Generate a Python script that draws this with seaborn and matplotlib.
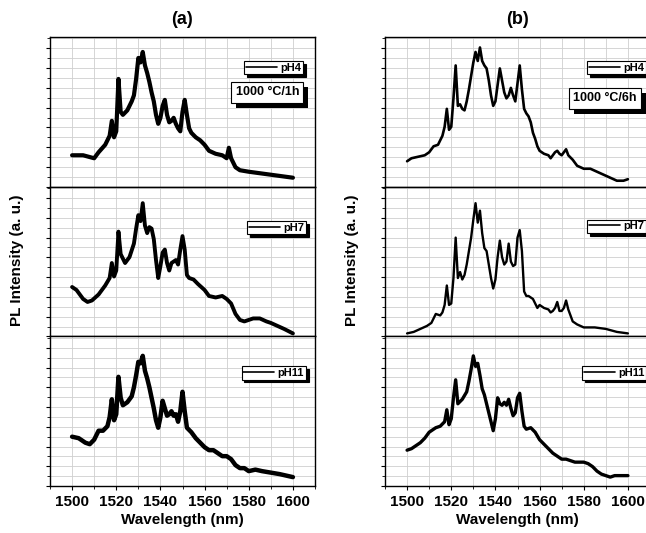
import pandas as pd
import matplotlib
matplotlib.use("Agg")
import matplotlib.pyplot as plt
import matplotlib.patheffects as pe
from matplotlib.ticker import MultipleLocator, NullFormatter
import seaborn as sns

# PL spectra, normalised to each panel's height (0..1)
wl_a4 = [1500, 1505, 1510, 1512, 1515, 1517, 1518, 1519, 1520, 1521, 1522, 1523, 1525, 1527, 1528,
         1529, 1530, 1531, 1532, 1533, 1534, 1535, 1536, 1537, 1538, 1539, 1540, 1541, 1542, 1543,
         1544, 1545, 1546, 1547, 1548, 1549, 1550, 1551, 1552, 1553, 1554, 1556, 1558, 1560, 1562,
         1565, 1568, 1570, 1571, 1572, 1574, 1576, 1580, 1585, 1590, 1595, 1600]
pl_a4 = [0.21, 0.21, 0.19, 0.23, 0.28, 0.34, 0.44, 0.33, 0.37, 0.72, 0.50, 0.48, 0.51, 0.57, 0.61,
         0.72, 0.86, 0.83, 0.90, 0.81, 0.76, 0.70, 0.63, 0.57, 0.48, 0.42, 0.46, 0.54, 0.58, 0.48,
         0.43, 0.44, 0.46, 0.42, 0.39, 0.37, 0.50, 0.58, 0.48, 0.39, 0.36, 0.33, 0.31, 0.28, 0.24,
         0.22, 0.21, 0.19, 0.26, 0.19, 0.13, 0.11, 0.10, 0.09, 0.08, 0.07, 0.06]

wl_a7 = [1500, 1502, 1505, 1507, 1509, 1512, 1515, 1517, 1518, 1519, 1520, 1521, 1522, 1524, 1526,
         1528, 1529, 1530, 1531, 1532, 1533, 1534, 1535, 1536, 1537, 1538, 1539, 1540, 1541, 1542,
         1543, 1544, 1545, 1546, 1547, 1548, 1549, 1550, 1551, 1552, 1553, 1555, 1557, 1560, 1562,
         1565, 1568, 1570, 1572, 1574, 1576, 1578, 1580, 1582, 1585, 1588, 1590, 1593, 1596, 1600]
pl_a7 = [0.33, 0.31, 0.25, 0.23, 0.24, 0.28, 0.34, 0.39, 0.49, 0.40, 0.44, 0.70, 0.55, 0.49, 0.53,
         0.62, 0.72, 0.81, 0.77, 0.89, 0.74, 0.69, 0.73, 0.72, 0.65, 0.51, 0.39, 0.47, 0.56, 0.58,
         0.49, 0.44, 0.49, 0.50, 0.51, 0.48, 0.58, 0.67, 0.58, 0.41, 0.39, 0.38, 0.35, 0.31, 0.27,
         0.26, 0.27, 0.25, 0.22, 0.15, 0.11, 0.10, 0.11, 0.12, 0.12, 0.10, 0.09, 0.07, 0.05, 0.02]

wl_a11 = [1500, 1503, 1506, 1508, 1510, 1512, 1514, 1516, 1517, 1518, 1519, 1520, 1521, 1522, 1523,
          1525, 1527, 1528, 1529, 1530, 1531, 1532, 1533, 1534, 1535, 1536, 1537, 1538, 1539, 1540,
          1541, 1542, 1543, 1544, 1545, 1546, 1547, 1548, 1549, 1550, 1551, 1552, 1554, 1556, 1558,
          1560, 1562, 1564, 1566, 1568, 1570, 1572, 1574, 1576, 1578, 1580, 1583, 1586, 1590, 1594,
          1597, 1600]
pl_a11 = [0.33, 0.32, 0.29, 0.28, 0.31, 0.37, 0.37, 0.40, 0.46, 0.58, 0.44, 0.48, 0.73, 0.59, 0.54,
          0.56, 0.60, 0.66, 0.74, 0.83, 0.82, 0.87, 0.77, 0.72, 0.66, 0.59, 0.52, 0.44, 0.39, 0.46,
          0.57, 0.52, 0.47, 0.48, 0.50, 0.47, 0.48, 0.43, 0.50, 0.63, 0.50, 0.39, 0.36, 0.32, 0.29,
          0.26, 0.24, 0.24, 0.22, 0.20, 0.20, 0.18, 0.14, 0.12, 0.12, 0.10, 0.11, 0.10, 0.09, 0.08,
          0.07, 0.06]

wl_b4 = [1500, 1502, 1505, 1508, 1510, 1512, 1514, 1515, 1516, 1517, 1518, 1519, 1520, 1521, 1522,
         1523, 1524, 1525, 1526, 1527, 1528, 1529, 1530, 1531, 1532, 1533, 1534, 1535, 1536, 1537,
         1538, 1539, 1540, 1541, 1542, 1543, 1544, 1545, 1546, 1547, 1548, 1549, 1550, 1551, 1552,
         1553, 1554, 1555, 1556, 1557, 1558, 1559, 1560, 1562, 1564, 1565, 1566, 1567, 1568, 1569,
         1570, 1571, 1572, 1573, 1575, 1577, 1580, 1583, 1586, 1589, 1592, 1595, 1598, 1600]
pl_b4 = [0.17, 0.19, 0.20, 0.21, 0.23, 0.27, 0.28, 0.31, 0.34, 0.40, 0.52, 0.38, 0.40, 0.59, 0.81,
         0.54, 0.55, 0.52, 0.51, 0.57, 0.65, 0.74, 0.83, 0.90, 0.84, 0.93, 0.84, 0.81, 0.79, 0.71,
         0.61, 0.54, 0.57, 0.68, 0.79, 0.71, 0.63, 0.59, 0.61, 0.66, 0.61, 0.57, 0.69, 0.81, 0.65,
         0.52, 0.49, 0.47, 0.43, 0.36, 0.32, 0.27, 0.24, 0.22, 0.21, 0.19, 0.21, 0.23, 0.24, 0.22,
         0.21, 0.23, 0.25, 0.21, 0.18, 0.14, 0.12, 0.12, 0.10, 0.08, 0.06, 0.04, 0.04, 0.05]

wl_b7 = [1500, 1503, 1506, 1509, 1511, 1513, 1515, 1516, 1517, 1518, 1519, 1520, 1521, 1522, 1523,
         1524, 1525, 1526, 1527, 1528, 1529, 1530, 1531, 1532, 1533, 1534, 1535, 1536, 1537, 1538,
         1539, 1540, 1541, 1542, 1543, 1544, 1545, 1546, 1547, 1548, 1549, 1550, 1551, 1552, 1553,
         1554, 1555, 1556, 1557, 1558, 1559, 1560, 1562, 1564, 1565, 1566, 1567, 1568, 1569, 1570,
         1571, 1572, 1573, 1574, 1575, 1577, 1580, 1585, 1590, 1595, 1600]
pl_b7 = [0.02, 0.03, 0.05, 0.07, 0.09, 0.15, 0.14, 0.16, 0.21, 0.34, 0.21, 0.22, 0.39, 0.66, 0.39,
         0.43, 0.38, 0.41, 0.48, 0.57, 0.66, 0.78, 0.89, 0.76, 0.84, 0.69, 0.59, 0.57, 0.48, 0.39,
         0.32, 0.38, 0.53, 0.64, 0.53, 0.48, 0.50, 0.62, 0.50, 0.47, 0.48, 0.66, 0.71, 0.57, 0.30,
         0.27, 0.27, 0.26, 0.25, 0.22, 0.19, 0.21, 0.19, 0.18, 0.16, 0.17, 0.19, 0.23, 0.17, 0.17,
         0.19, 0.24, 0.18, 0.14, 0.10, 0.08, 0.06, 0.06, 0.05, 0.03, 0.02]

wl_b11 = [1500, 1502, 1504, 1506, 1508, 1510, 1512, 1513, 1515, 1517, 1518, 1519, 1520, 1521, 1522,
          1523, 1525, 1527, 1528, 1529, 1530, 1531, 1532, 1533, 1534, 1535, 1536, 1537, 1538, 1539,
          1540, 1541, 1542, 1543, 1544, 1545, 1546, 1547, 1548, 1549, 1550, 1551, 1552, 1553, 1554,
          1556, 1558, 1560, 1562, 1564, 1566, 1568, 1570, 1572, 1574, 1576, 1578, 1580, 1582, 1584,
          1586, 1588, 1590, 1592, 1594, 1596, 1598, 1600]
pl_b11 = [0.24, 0.25, 0.27, 0.29, 0.32, 0.36, 0.38, 0.39, 0.40, 0.43, 0.51, 0.41, 0.45, 0.59, 0.71,
          0.55, 0.58, 0.63, 0.70, 0.78, 0.87, 0.80, 0.82, 0.74, 0.65, 0.61, 0.55, 0.49, 0.43, 0.37,
          0.45, 0.59, 0.55, 0.54, 0.56, 0.54, 0.58, 0.52, 0.47, 0.49, 0.59, 0.62, 0.50, 0.40, 0.38,
          0.39, 0.36, 0.31, 0.28, 0.25, 0.22, 0.20, 0.18, 0.18, 0.17, 0.16, 0.16, 0.16, 0.15, 0.13,
          0.10, 0.08, 0.07, 0.06, 0.07, 0.07, 0.07, 0.07]

labels = ["pH4", "pH7", "pH11"]
panel_titles = ["(a)", "(b)"]
anneal_labels = ["1000 °C/1h", "1000 °C/6h"]
columns = [
    [(wl_a4, pl_a4), (wl_a7, pl_a7), (wl_a11, pl_a11)],
    [(wl_b4, pl_b4), (wl_b7, pl_b7), (wl_b11, pl_b11)],
]
# the 1h spectra are noisy, so their trace reads thicker
line_widths = [[3.0, 2.8, 3.2], [1.9, 1.7, 2.4]]

sns.set_style("white")
plt.rcParams['font.family'] = ['Liberation Sans', 'DejaVu Sans']
plt.rcParams['font.weight'] = 'bold'
for key in ['text.color', 'axes.labelcolor', 'xtick.color', 'ytick.color', 'axes.edgecolor']:
    plt.rcParams[key] = 'black'

W, H = 646, 533
fig = plt.figure(figsize=(W / 100, H / 100), dpi=100)

col_left = [50, 385]
col_width = 265
panel_top = 37
panel_h = 149.7

legend_pos = [[(0.955, 0.84), (0.965, 0.77), (0.965, 0.80)],
              [(0.985, 0.84), (0.985, 0.78), (0.985, 0.80)]]
anneal_pos = [(0.82, 0.63), (0.83, 0.59)]

for c, col in enumerate(columns):
    for r, (wl, pl) in enumerate(col):
        top = panel_top + r * panel_h
        ax = fig.add_axes([col_left[c] / W, 1 - (top + panel_h) / H, col_width / W, panel_h / H])
        df = pd.DataFrame({'wavelength': wl, 'intensity': pl})
        sns.lineplot(data=df, x='wavelength', y='intensity', ax=ax, color='black',
                     linewidth=line_widths[c][r], label=labels[r], estimator=None, sort=False)
        ax.set_xlim(1490, 1610)
        ax.set_ylim(0, 1)
        ax.xaxis.set_major_locator(MultipleLocator(20))
        ax.xaxis.set_minor_locator(MultipleLocator(10))
        ax.yaxis.set_major_locator(MultipleLocator(0.132))
        ax.yaxis.set_minor_locator(MultipleLocator(0.066))
        ax.yaxis.set_major_formatter(NullFormatter())
        ax.grid(True, which='both', color='#cfcfcf', linewidth=0.6)
        ax.set_axisbelow(True)
        ax.tick_params(axis='both', which='major', direction='out', length=3, width=0.8,
                       left=True, bottom=True, labelsize=11, colors='black')
        ax.tick_params(axis='both', which='minor', direction='out', length=2, width=0.6,
                       left=True, bottom=True, colors='black')
        for lbl in ax.get_xticklabels():
            lbl.set_fontweight('bold')
        if r < 2:
            ax.xaxis.set_major_formatter(NullFormatter())
        ax.set_xlabel('')
        ax.set_ylabel('')
        for sp in ax.spines.values():
            sp.set_color('black')
            sp.set_linewidth(1.0)

        leg = ax.legend(loc='upper right', bbox_to_anchor=legend_pos[c][r], frameon=True,
                        fancybox=False, shadow={'color': 'black', 'alpha': 1.0},
                        edgecolor='black', framealpha=1.0, handlelength=2.8, borderpad=0.15,
                        handletextpad=0.3, borderaxespad=0,
                        prop={'weight': 'bold', 'size': 8})
        leg.get_frame().set_linewidth(0.8)
        for h in leg.get_lines():
            h.set_linewidth(1.2)
        for txt in leg.get_texts():
            txt.set_color('black')

        if r == 0:
            t = ax.text(anneal_pos[c][0], anneal_pos[c][1], anneal_labels[c],
                        transform=ax.transAxes, ha='center', va='center',
                        fontsize=9, fontweight='bold', color='black',
                        bbox=dict(boxstyle='square,pad=0.35', fc='white', ec='black', lw=0.8))
            t.get_bbox_patch().set_path_effects([
                pe.SimplePatchShadow(offset=(3.5, -3.5), shadow_rgbFace='black', alpha=1.0),
                pe.Normal()])

    cx = (col_left[c] + col_width / 2) / W
    fig.text(cx, 1 - 19 / H, panel_titles[c], ha='center', va='center',
             fontsize=13, fontweight='bold', color='black')
    fig.text(cx, 1 - 520 / H, 'Wavelength (nm)', ha='center', va='center',
             fontsize=11, fontweight='bold', color='black')
    fig.text((col_left[c] - 33) / W, 1 - 260 / H, 'PL Intensity (a. u.)', ha='center',
             va='center', rotation=90, fontsize=11, fontweight='bold', color='black')

fig.savefig('out.png', dpi=100)
